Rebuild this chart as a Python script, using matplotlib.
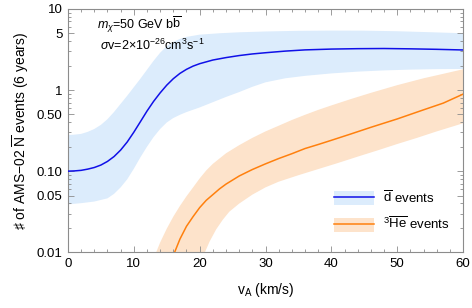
import numpy as np
import matplotlib
matplotlib.use("Agg")
import matplotlib.pyplot as plt
from matplotlib.patches import Patch
from matplotlib.lines import Line2D
from matplotlib.legend_handler import HandlerTuple
from matplotlib.ticker import FixedLocator, FixedFormatter, MultipleLocator

# --- DATA ---
# anti-deuteron central curve
dbar_v = [0, 1, 2, 3, 4, 5, 6, 7, 8, 9, 10, 11, 12, 13, 14, 15, 16, 17, 18, 19, 20,
          22, 24, 26, 28, 30, 33, 36, 40, 44, 48, 52, 56, 60]
dbar_y = [0.1, 0.1007, 0.1023, 0.1059, 0.1109, 0.1189, 0.1318, 0.1514, 0.182, 0.229,
          0.302, 0.407, 0.55, 0.724, 0.923, 1.148, 1.38, 1.603, 1.80, 1.972, 2.113,
          2.344, 2.512, 2.661, 2.786, 2.884, 3.02, 3.126, 3.199, 3.236, 3.251, 3.221,
          3.177, 3.119]
# anti-deuteron band
dbar_up_v = [0, 1, 2, 3, 4, 5, 6, 7, 8, 9, 10, 11, 12, 13, 14, 15, 16, 17, 18, 20,
             23, 26, 30, 35, 40, 45, 50, 55, 60]
dbar_up_y = [0.279, 0.282, 0.288, 0.305, 0.331, 0.372, 0.437, 0.537, 0.676, 0.851,
             1.084, 1.38, 1.778, 2.291, 2.884, 3.467, 3.936, 4.266, 4.519, 4.819,
             5.012, 5.152, 5.272, 5.37, 5.408, 5.395, 5.309, 5.164, 5.012]
dbar_lo_v = [0, 2, 4, 6, 7, 8, 9, 10, 11, 12, 13, 14, 15, 16, 17, 18, 20, 22, 24, 26,
             28, 30, 33, 36, 40, 44, 48, 52, 56, 60]
dbar_lo_y = [0.0389, 0.0403, 0.0422, 0.0462, 0.0525, 0.0631, 0.0794, 0.107, 0.148,
             0.2, 0.263, 0.331, 0.398, 0.452, 0.495, 0.535, 0.61, 0.708, 0.822, 0.944,
             1.096, 1.245, 1.396, 1.496, 1.603, 1.687, 1.746, 1.786, 1.811, 1.82]

# anti-helium-3 central curve
he_v = [16.2, 17, 18, 19, 20, 21, 22, 23, 24, 26, 28, 30, 32, 34, 36, 38, 40, 43, 46,
        50, 54, 57, 60]
he_y = [0.01, 0.0145, 0.0209, 0.0275, 0.0355, 0.0437, 0.0513, 0.0603, 0.0692, 0.0871,
        0.1047, 0.123, 0.143, 0.164, 0.19, 0.213, 0.24, 0.288, 0.347, 0.44, 0.57,
        0.69, 0.89]
# anti-helium-3 band
he_up_v = [13.4, 14, 15, 16, 17, 18, 19, 20, 21, 22, 24, 26, 28, 30, 32, 34, 36, 38,
           40, 43, 46, 50, 54, 57, 60]
he_up_y = [0.01, 0.0132, 0.0195, 0.0275, 0.0372, 0.049, 0.063, 0.0813, 0.102, 0.123,
           0.166, 0.209, 0.257, 0.309, 0.363, 0.427, 0.495, 0.569, 0.646, 0.776, 0.923,
           1.148, 1.396, 1.585, 1.803]
he_lo_v = [20.8, 21.5, 22.5, 23.5, 24.5, 26, 28, 30, 32, 35, 38, 41, 44, 47, 50, 53,
           56, 60]
he_lo_y = [0.01, 0.0135, 0.0191, 0.0251, 0.0316, 0.0398, 0.0513, 0.0631, 0.0741,
           0.0891, 0.106, 0.126, 0.151, 0.18, 0.216, 0.257, 0.309, 0.389]

y_ticks = [0.01, 0.05, 0.10, 0.50, 1, 5, 10]
y_ticklabels = ["0.01", "0.05", "0.10", "0.50", "1", "5", "10"]

# --- COLORS ---
BLUE = "#1010e8"
BLUE_BAND = "#dcecfc"
ORANGE = "#ff800e"
ORANGE_BAND = "#fde3cb"
SPINE = "#8c8c8c"

plt.rcParams["font.family"] = ["Liberation Sans", "DejaVu Sans"]
plt.rcParams["mathtext.fontset"] = "custom"
plt.rcParams["mathtext.rm"] = "Liberation Sans"
plt.rcParams["mathtext.it"] = "Liberation Sans:italic"
plt.rcParams["font.size"] = 9


def band(ax, up_v, up_y, lo_v, lo_y, color):
    # polygon built from the two edges
    xs = list(up_v) + list(lo_v)[::-1]
    ys = list(up_y) + list(lo_y)[::-1]
    ax.fill(xs, ys, color=color, lw=0, zorder=1)


fig = plt.figure(figsize=(4.72, 3.08), dpi=100)
ax = fig.add_axes([0.144, 0.181, 0.837, 0.790])

band(ax, dbar_up_v, dbar_up_y, dbar_lo_v, dbar_lo_y, BLUE_BAND)
band(ax, he_up_v, he_up_y, he_lo_v, he_lo_y, ORANGE_BAND)
ax.plot(dbar_v, dbar_y, color=BLUE, lw=1.1, zorder=3)
ax.plot(he_v, he_y, color=ORANGE, lw=1.1, zorder=3)

ax.set_yscale("log")
ax.set_xlim(0, 60)
ax.set_ylim(0.01, 10)
ax.yaxis.set_major_locator(FixedLocator(y_ticks))
ax.yaxis.set_major_formatter(FixedFormatter(y_ticklabels))
ax.xaxis.set_major_locator(MultipleLocator(10))
ax.xaxis.set_minor_locator(MultipleLocator(2))

for s in ax.spines.values():
    s.set_color(SPINE)
    s.set_linewidth(0.8)
ax.tick_params(which="both", direction="in", top=True, right=True, color=SPINE,
               labelsize=9.5, width=0.6)
ax.tick_params(which="major", length=4, pad=4)
ax.tick_params(which="minor", length=2.5)

ax.set_xlabel(r"v$_{\rm A}$ (km/s)", fontsize=10, labelpad=8)
ax.set_ylabel("\u266f of AMS\u221202 $\\overline{\\rm N}$ events (6 years)", fontsize=10,
              labelpad=4)

ax.text(0.073, 0.935, r"$m_\chi$=50 GeV b$\overline{\rm b}$", transform=ax.transAxes,
        fontsize=9, va="center", ha="left")
ax.text(0.080, 0.852, r"$\sigma$v=2$\times$10$^{-26}$cm$^3$s$^{-1}$",
        transform=ax.transAxes, fontsize=9, va="center", ha="left")

handles = [
    (Patch(facecolor=BLUE_BAND, lw=0), Line2D([], [], color=BLUE, lw=1.1)),
    (Patch(facecolor=ORANGE_BAND, lw=0), Line2D([], [], color=ORANGE, lw=1.1)),
]
labels = [r"$\overline{\rm d}$ events", r"$^3\overline{\rm He}$ events"]
ax.legend(handles, labels, handler_map={tuple: HandlerTuple(ndivide=1, pad=0)},
          loc="lower right", bbox_to_anchor=(0.98, 0.06), frameon=False,
          fontsize=9.5, handlelength=3.0, handleheight=1.2, handletextpad=0.7,
          labelspacing=0.8, borderaxespad=0)

fig.savefig("out.png", dpi=100)
